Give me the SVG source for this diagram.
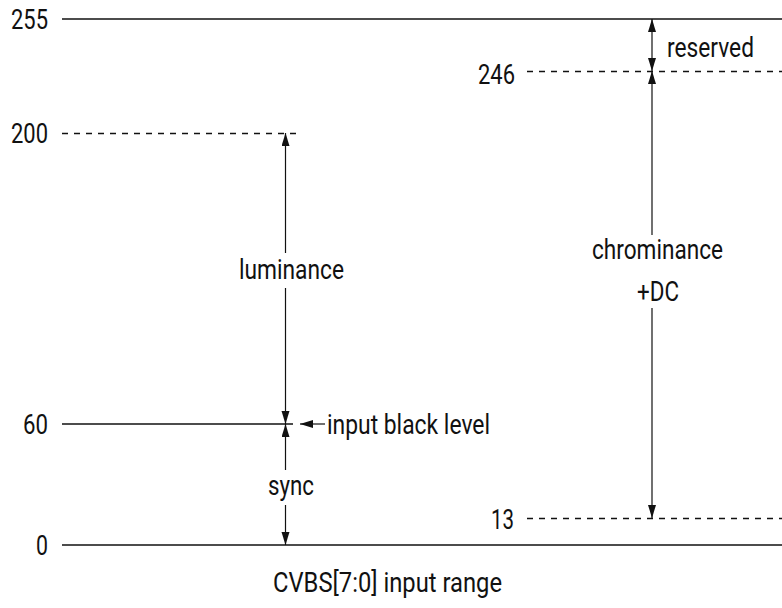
<svg xmlns="http://www.w3.org/2000/svg" width="782" height="608" viewBox="0 0 782 608">
<style>
.lvl{stroke:#111;stroke-width:1.5;fill:none}
.dash{stroke:#111;stroke-width:1.3;stroke-dasharray:6 6;fill:none}
.arr{stroke:#111;stroke-width:1.2;fill:none;marker-end:url(#ah)}
text{font-family:Roboto,"Liberation Sans",sans-serif;font-size:27px;fill:#111}
</style>
<defs>
<marker id="ah" markerUnits="userSpaceOnUse" markerWidth="14" markerHeight="9" refX="13" refY="4" orient="auto-start-reverse" viewBox="0 0 14 9">
<path d="M0,0 L13,4 L0,8 z" fill="#111"/>
</marker>
</defs>
<g id="levels">
<line class="lvl" x1="62" y1="19" x2="782" y2="19"/>
<line class="dash" x1="62" y1="133.5" x2="298" y2="133.5"/>
<line class="dash" x1="527" y1="71.5" x2="782" y2="71.5"/>
<line class="lvl" x1="62" y1="424" x2="293" y2="424"/>
<line class="dash" x1="527" y1="518.5" x2="782" y2="518.5"/>
<line class="lvl" x1="62" y1="545" x2="782" y2="545"/>
</g>
<g id="labels">
<text x="11" y="29" textLength="37" lengthAdjust="spacingAndGlyphs">255</text>
<text x="11" y="143" textLength="37" lengthAdjust="spacingAndGlyphs">200</text>
<text x="478" y="84" textLength="37" lengthAdjust="spacingAndGlyphs">246</text>
<text x="23" y="434" textLength="25" lengthAdjust="spacingAndGlyphs">60</text>
<text x="36" y="555" textLength="12" lengthAdjust="spacingAndGlyphs">0</text>
<text x="491" y="529" textLength="23" lengthAdjust="spacingAndGlyphs">13</text>
</g>
<g id="connectors">
<line class="arr" x1="285.5" y1="253" x2="285.5" y2="133"/>
<line class="arr" x1="285.5" y1="288" x2="285.5" y2="424"/>
<line class="arr" x1="285.5" y1="470" x2="285.5" y2="424"/>
<line class="arr" x1="285.5" y1="505" x2="285.5" y2="545"/>
<line class="arr" x1="652" y1="71" x2="652" y2="19" style="marker-start:url(#ah)"/>
<line class="arr" x1="652" y1="235" x2="652" y2="71"/>
<line class="arr" x1="652" y1="308" x2="652" y2="518"/>
<line class="arr" x1="325" y1="424" x2="300" y2="424"/>
</g>
<g id="luminance"><text x="239" y="279" textLength="105" lengthAdjust="spacingAndGlyphs">luminance</text></g>
<g id="sync"><text x="268" y="495" textLength="46" lengthAdjust="spacingAndGlyphs">sync</text></g>
<g id="black-level"><text x="327" y="434" textLength="163" lengthAdjust="spacingAndGlyphs">input black level</text></g>
<g id="reserved"><text x="667" y="57" textLength="87" lengthAdjust="spacingAndGlyphs">reserved</text></g>
<g id="chrominance">
<text x="592" y="259" textLength="131" lengthAdjust="spacingAndGlyphs">chrominance</text>
<text x="637" y="301" textLength="42" lengthAdjust="spacingAndGlyphs">+DC</text>
</g>
<g id="caption"><text x="273" y="592" textLength="229" lengthAdjust="spacingAndGlyphs">CVBS[7:0] input range</text></g>
</svg>
